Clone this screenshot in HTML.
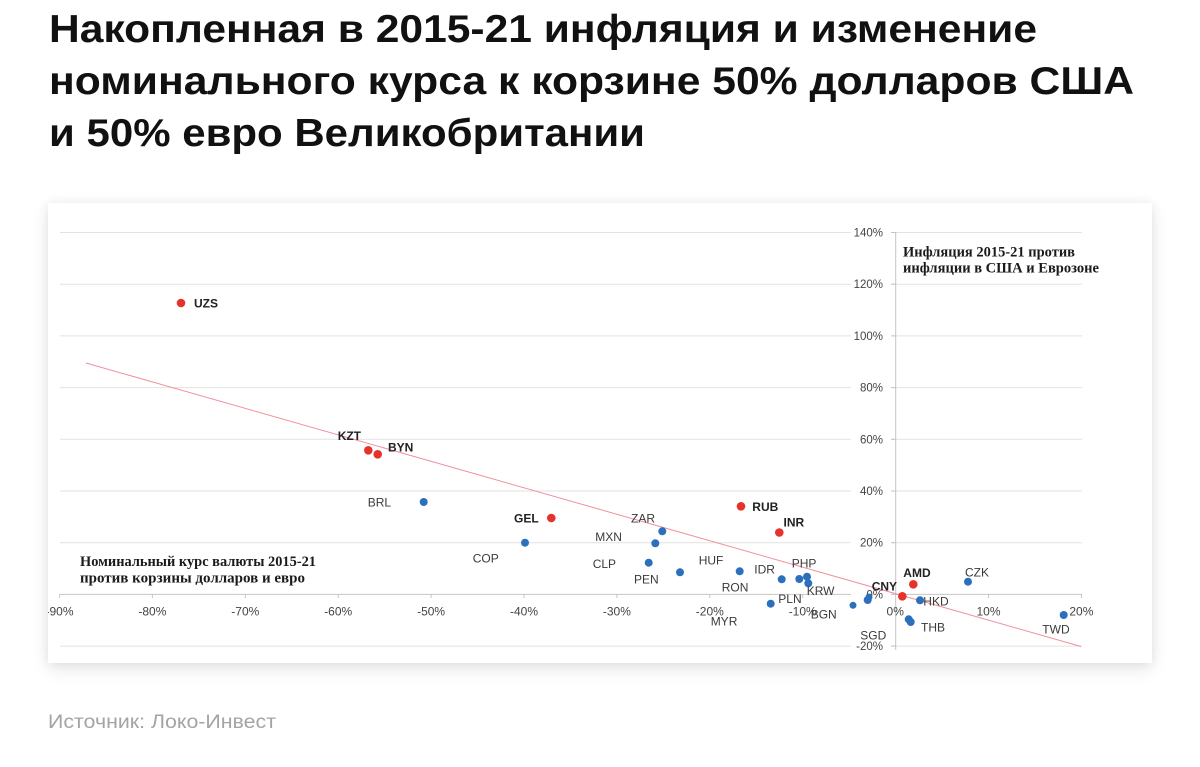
<!DOCTYPE html>
<html>
<head>
<meta charset="utf-8">
<style>
  html, body { margin: 0; padding: 0; background: #ffffff; }
  body { width: 1200px; height: 767px; position: relative; overflow: hidden; }
  .card { position: absolute; left: 48px; top: 203px; width: 1104px; height: 460px; background: #fff;
          box-shadow: 0 6px 16px rgba(0,0,0,0.10), 0 0 10px rgba(0,0,0,0.06); }
  svg { position: absolute; left: 0; top: 0; }
</style>
</head>
<body>
<div class="card"></div>
<svg width="1200" height="767" viewBox="0 0 1200 767" xmlns="http://www.w3.org/2000/svg">
  <defs>
    <clipPath id="cardclip"><rect x="48" y="203" width="1104" height="460"/></clipPath>
  </defs>

  <!-- Title -->
  <g font-family="'Liberation Sans', 'Noto Sans CJK SC', sans-serif" font-weight="bold" font-size="39" fill="#111">
    <text x="49" y="42" textLength="988" lengthAdjust="spacingAndGlyphs">Накопленная в 2015-21 инфляция и изменение</text>
    <text x="49" y="94" textLength="1085" lengthAdjust="spacingAndGlyphs">номинального курса к корзине 50% долларов США</text>
    <text x="49" y="146" textLength="596" lengthAdjust="spacingAndGlyphs">и 50% евро Великобритании</text>
  </g>

  <g clip-path="url(#cardclip)">
    <!-- gridlines -->
    <g stroke="#e2e2e2" stroke-width="1">
      <line x1="60" y1="232.5" x2="1082" y2="232.5"/>
      <line x1="60" y1="284.2" x2="1082" y2="284.2"/>
      <line x1="60" y1="335.9" x2="1082" y2="335.9"/>
      <line x1="60" y1="387.6" x2="1082" y2="387.6"/>
      <line x1="60" y1="439.3" x2="1082" y2="439.3"/>
      <line x1="60" y1="491.0" x2="1082" y2="491.0"/>
      <line x1="60" y1="542.7" x2="1082" y2="542.7"/>
      <line x1="60" y1="646.1" x2="1082" y2="646.1"/>
    </g>
    <!-- x axis -->
    <line x1="60" y1="594.4" x2="1082" y2="594.4" stroke="#c4c4c4" stroke-width="1"/>
    <g stroke="#c4c4c4" stroke-width="1">
      <line x1="59.5" y1="594.4" x2="59.5" y2="598"/>
      <line x1="152.4" y1="594.4" x2="152.4" y2="598"/>
      <line x1="245.3" y1="594.4" x2="245.3" y2="598"/>
      <line x1="338.2" y1="594.4" x2="338.2" y2="598"/>
      <line x1="431.1" y1="594.4" x2="431.1" y2="598"/>
      <line x1="524" y1="594.4" x2="524" y2="598"/>
      <line x1="616.9" y1="594.4" x2="616.9" y2="598"/>
      <line x1="709.8" y1="594.4" x2="709.8" y2="598"/>
      <line x1="802.7" y1="594.4" x2="802.7" y2="598"/>
      <line x1="988.5" y1="594.4" x2="988.5" y2="598"/>
      <line x1="1081.4" y1="594.4" x2="1081.4" y2="598"/>
    </g>
    <!-- y axis -->
    <line x1="895.7" y1="232" x2="895.7" y2="650" stroke="#c4c4c4" stroke-width="1"/>

    <!-- y labels background masks -->
    <g fill="#ffffff">
      <rect x="851" y="226" width="40" height="13"/>
      <rect x="851" y="278" width="40" height="13"/>
      <rect x="851" y="329" width="40" height="13"/>
      <rect x="851" y="381" width="40" height="13"/>
      <rect x="851" y="433" width="40" height="13"/>
      <rect x="851" y="484" width="40" height="13"/>
      <rect x="851" y="536" width="40" height="13"/>
      <rect x="851" y="588" width="40" height="13"/>
      <rect x="851" y="640" width="40" height="13"/>
    </g>
    <g stroke="#c4c4c4" stroke-width="1">
      <line x1="891" y1="232.5" x2="895.7" y2="232.5"/>
      <line x1="891" y1="284.2" x2="895.7" y2="284.2"/>
      <line x1="891" y1="335.9" x2="895.7" y2="335.9"/>
      <line x1="891" y1="387.6" x2="895.7" y2="387.6"/>
      <line x1="891" y1="439.3" x2="895.7" y2="439.3"/>
      <line x1="891" y1="491.0" x2="895.7" y2="491.0"/>
      <line x1="891" y1="542.7" x2="895.7" y2="542.7"/>
      <line x1="891" y1="646.1" x2="895.7" y2="646.1"/>
    </g>

    <!-- y tick labels -->
    <g font-family="'Liberation Sans', sans-serif" font-size="11.5" fill="#444" text-anchor="end">
      <text x="883" y="236.5">140%</text>
      <text x="883" y="288.2">120%</text>
      <text x="883" y="339.9">100%</text>
      <text x="883" y="391.6">80%</text>
      <text x="883" y="443.3">60%</text>
      <text x="883" y="495">40%</text>
      <text x="883" y="546.7">20%</text>
      <text x="883" y="598.4">0%</text>
      <text x="883" y="650.1">-20%</text>
    </g>

    <!-- x tick labels -->
    <g font-family="'Liberation Sans', sans-serif" font-size="12" fill="#444" text-anchor="middle">
      <text x="59.5" y="615.3">-90%</text>
      <text x="152.4" y="615.3">-80%</text>
      <text x="245.3" y="615.3">-70%</text>
      <text x="338.2" y="615.3">-60%</text>
      <text x="431.1" y="615.3">-50%</text>
      <text x="524" y="615.3">-40%</text>
      <text x="616.9" y="615.3">-30%</text>
      <text x="709.8" y="615.3">-20%</text>
      <text x="802.7" y="615.3">-10%</text>
      <text x="895.2" y="615.3">0%</text>
      <text x="988.5" y="615.3">10%</text>
      <text x="1081.4" y="615.3">20%</text>
    </g>

    <!-- trend line -->
    <line x1="86" y1="363" x2="1081" y2="646.5" stroke="#f0909f" stroke-width="1"/>

    <!-- annotations -->
    <g font-family="'Liberation Serif', serif" font-weight="bold" font-size="15" fill="#1a1a1a">
      <text x="80" y="566" textLength="236" lengthAdjust="spacingAndGlyphs">Номинальный курс валюты 2015-21</text>
      <text x="80" y="582.5" textLength="225" lengthAdjust="spacingAndGlyphs">против корзины долларов и евро</text>
      <text x="903" y="256.5" textLength="172" lengthAdjust="spacingAndGlyphs">Инфляция 2015-21 против</text>
      <text x="903" y="272.5" textLength="196" lengthAdjust="spacingAndGlyphs">инфляции в США и Еврозоне</text>
    </g>

    <!-- blue dots -->
    <g fill="#2c6fbd">
      <circle cx="423.7" cy="502" r="4"/>
      <circle cx="525" cy="542.7" r="4"/>
      <circle cx="662.3" cy="531.3" r="4"/>
      <circle cx="655.3" cy="543.3" r="4"/>
      <circle cx="648.7" cy="562.7" r="4"/>
      <circle cx="680" cy="572.3" r="4"/>
      <circle cx="739.7" cy="571.3" r="4"/>
      <circle cx="781.7" cy="579.3" r="4"/>
      <circle cx="799.3" cy="579" r="4"/>
      <circle cx="807" cy="576.7" r="4"/>
      <circle cx="808.3" cy="583.3" r="4"/>
      <circle cx="770.7" cy="603.7" r="4"/>
      <circle cx="853" cy="605.3" r="3.5"/>
      <circle cx="867.7" cy="600" r="4"/>
      <circle cx="869" cy="597" r="3.5"/>
      <circle cx="920" cy="600.3" r="4"/>
      <circle cx="908.7" cy="619.3" r="4"/>
      <circle cx="910.7" cy="622" r="4"/>
      <circle cx="968" cy="581.7" r="4"/>
      <circle cx="1063.7" cy="615" r="4"/>
    </g>
    <!-- red dots -->
    <g fill="#e5322b">
      <circle cx="181" cy="303" r="4.3"/>
      <circle cx="368.3" cy="450.3" r="4.3"/>
      <circle cx="377.7" cy="454.3" r="4.3"/>
      <circle cx="551.3" cy="518" r="4.3"/>
      <circle cx="741" cy="506.3" r="4.3"/>
      <circle cx="779.3" cy="532.5" r="4.3"/>
      <circle cx="902.3" cy="596.3" r="4.3"/>
      <circle cx="913.3" cy="584.3" r="4.3"/>
    </g>

    <!-- bold labels (red series) -->
    <g font-family="'Liberation Sans', sans-serif" font-size="12" font-weight="bold" fill="#222">
      <text x="194" y="307.3">UZS</text>
      <text x="337.7" y="440">KZT</text>
      <text x="388" y="451.6">BYN</text>
      <text x="514" y="522.3">GEL</text>
      <text x="752.3" y="510.8">RUB</text>
      <text x="783.5" y="526.6">INR</text>
      <text x="871.7" y="590.3">CNY</text>
      <text x="903.3" y="577">AMD</text>
    </g>
    <!-- regular labels (blue series) -->
    <g font-family="'Liberation Sans', sans-serif" font-size="12" fill="#3a3a3a">
      <text x="367.7" y="506.3">BRL</text>
      <text x="472.7" y="562.3">COP</text>
      <text x="631" y="522.3">ZAR</text>
      <text x="595.3" y="541">MXN</text>
      <text x="592.7" y="568">CLP</text>
      <text x="634" y="583.3">PEN</text>
      <text x="698.7" y="564.6">HUF</text>
      <text x="754.3" y="573.6">IDR</text>
      <text x="721.7" y="591.6">RON</text>
      <text x="791.7" y="567.6">PHP</text>
      <text x="806.7" y="595">KRW</text>
      <text x="778.3" y="602.8">PLN</text>
      <text x="710.7" y="625.3">MYR</text>
      <text x="810.7" y="618.6">BGN</text>
      <text x="860.3" y="639.6">SGD</text>
      <text x="923.3" y="605.3">HKD</text>
      <text x="921" y="631.3">THB</text>
      <text x="965" y="576.3">CZK</text>
      <text x="1042.3" y="633.6">TWD</text>
    </g>
  </g>

  <!-- Source -->
  <text x="48" y="728" font-family="'Liberation Sans', sans-serif" font-size="19" fill="#a4a4a4" textLength="228" lengthAdjust="spacingAndGlyphs">Источник: Локо-Инвест</text>
</svg>
</body>
</html>
